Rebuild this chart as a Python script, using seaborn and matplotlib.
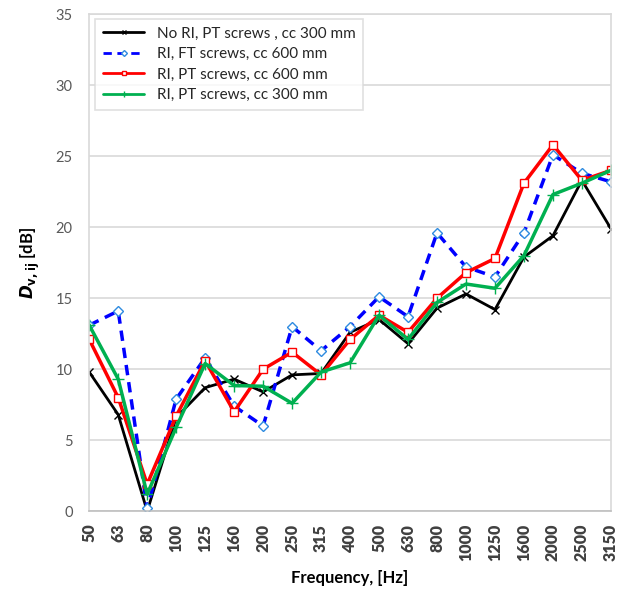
import numpy as np
import pandas as pd
import matplotlib
matplotlib.use("Agg")
import matplotlib.pyplot as plt
import seaborn as sns

# third-octave bands, Hz
freqs = ["50", "63", "80", "100", "125", "160", "200", "250", "315", "400",
         "500", "630", "800", "1000", "1250", "1600", "2000", "2500", "3150"]

no_ri_pt_300 = [9.8, 6.8, 0.0, 6.6, 8.7, 9.3, 8.4, 9.6, 9.7, 12.6,
                13.5, 11.8, 14.3, 15.3, 14.2, 17.9, 19.4, 23.3, 19.9]
ri_ft_600 = [13.1, 14.1, 0.2, 7.9, 10.8, 7.4, 6.0, 13.0, 11.3, 13.0,
             15.1, 13.7, 19.6, 17.2, 16.5, 19.6, 25.1, 23.8, 23.2]
ri_pt_600 = [12.1, 8.0, 1.9, 6.7, 10.6, 7.0, 10.0, 11.2, 9.6, 12.1,
             13.8, 12.6, 15.0, 16.8, 17.8, 23.1, 25.8, 23.3, 24.0]
ri_pt_300 = [13.1, 9.3, 1.2, 5.9, 10.4, 8.85, 8.8, 7.6, 9.8, 10.45,
             13.8, 12.1, 14.7, 16.0, 15.7, 18.0, 22.3, 23.1, 24.0]

labels = ["No RI, PT screws , cc 300 mm", "RI, FT screws, cc 600 mm",
          "RI, PT screws, cc 600 mm", "RI, PT screws, cc 300 mm"]

sns.set_style("white")
plt.rcParams["font.family"] = ["Lato", "DejaVu Sans"]
plt.rcParams["mathtext.fontset"] = "dejavusans"

fig, ax = plt.subplots(figsize=(6.24, 5.91), dpi=100)
fig.subplots_adjust(left=0.143, right=0.979, top=0.976, bottom=0.135)

pos = np.arange(len(freqs))

# one style per series: colour, dash, marker, marker edge
styles = [
    dict(color="black", linestyle="-", marker="x", mec="black", mfc="black", ms=6, lw=2.0),
    dict(color="#0000ff", linestyle=(0, (3, 2)), marker="D", mec="#2e8be0", mfc="white", ms=5, lw=2.5),
    dict(color="#ff0000", linestyle="-", marker="s", mec="#ff0000", mfc="white", ms=6, lw=2.5),
    dict(color="#00b050", linestyle="-", marker="+", mec="#00b050", mfc="#00b050", ms=8, lw=2.5),
]
series = [no_ri_pt_300, ri_ft_600, ri_pt_600, ri_pt_300]

for vals, lab, st in zip(series, labels, styles):
    sns.lineplot(x=pos, y=vals, ax=ax, label=lab, color=st["color"],
                 linestyle=st["linestyle"], marker=st["marker"],
                 markeredgecolor=st["mec"], markerfacecolor=st["mfc"],
                 markersize=st["ms"], linewidth=st["lw"], markeredgewidth=1.0)

ax.set_xlim(0, len(freqs) - 1)
ax.set_ylim(0, 35)
ax.set_yticks(np.arange(0, 36, 5))
ax.set_xticks(pos)
ax.set_xticklabels(freqs, rotation=90, fontweight="heavy", color="#404040", fontsize=11.5)
ax.tick_params(axis="y", labelsize=10.5, labelcolor="#595959", length=0, pad=12)
ax.tick_params(axis="x", direction="in", length=4, color="#bfbfbf", pad=9)

ax.yaxis.grid(True, color="#d9d9d9", linewidth=1.2)
ax.xaxis.grid(False)
for sp in ax.spines.values():
    sp.set_color("#d9d9d9")
    sp.set_linewidth(1.2)
ax.spines["bottom"].set_color("#bfbfbf")

ax.set_xlabel("Frequency, [Hz]", fontweight="bold", fontsize=12, color="black")
ax.xaxis.set_label_coords(0.5, -0.118)
ax.set_ylabel(r"$\mathbfit{D}_{\mathbf{v,ij}}$ [dB]", fontweight="bold", fontsize=12,
              color="black", labelpad=10)

leg = ax.legend(loc="upper left", bbox_to_anchor=(0.012, 0.99), borderaxespad=0,
                fontsize=11, frameon=True, fancybox=False, edgecolor="#d9d9d9",
                handlelength=2.7, borderpad=0.5, labelspacing=0.42, handletextpad=0.8,
                markerscale=0.6)
leg.get_frame().set_linewidth(1.2)
for t in leg.get_texts():
    t.set_color("#262626")
for ln in leg.get_lines():
    ln.set_linewidth(2.0)

fig.savefig("out.png", dpi=100)
